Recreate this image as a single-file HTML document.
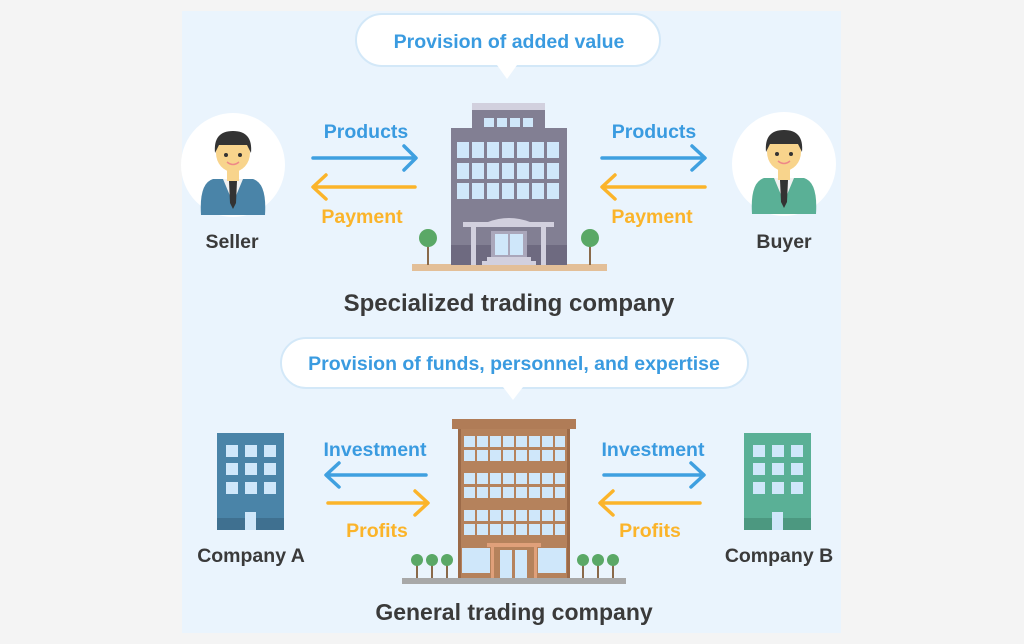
<!DOCTYPE html>
<html><head><meta charset="utf-8"><style>
html,body{margin:0;padding:0;background:#f5f5f5;}
svg{display:block}
text{font-family:"Liberation Sans","DejaVu Sans",sans-serif;font-weight:bold}
</style></head><body>
<svg width="1024" height="644" viewBox="0 0 1024 644" xmlns="http://www.w3.org/2000/svg">
<rect width="1024" height="644" fill="#f4f4f4"/>
<rect x="182" y="11" width="659" height="622" fill="#eaf4fd"/>

<!-- bubble 1 -->
<rect x="356" y="14" width="304" height="52" rx="26" fill="#fff" stroke="#d3e8f8" stroke-width="2"/>
<path d="M497,65 L507,79 L517,65 Z" fill="#fff"/>
<text x="509" y="48" font-size="19.5" fill="#3a9be0" text-anchor="middle">Provision of added value</text>

<!-- seller -->
<circle cx="233" cy="165" r="52" fill="#fff"/>
<g transform="translate(233,165)">
<path d="M-32,50 Q-34,18 -20,14 L20,14 Q34,18 32,50 Z" fill="#4a84a8"/>
<path d="M-10,14 L0,38 L10,14 Z" fill="#f2f2f2"/>
<path d="M-4,16 L4,16 L3,38 L0,44 L-3,38 Z" fill="#333"/>
<rect x="-6" y="4" width="12" height="12" fill="#f8d48c"/>
<ellipse cx="0" cy="-12" rx="17" ry="19" fill="#f8d48c"/>
<path d="M-18,-12 Q-20,-34 0,-34 Q20,-34 18,-12 L14,-20 L-14,-20 Z" fill="#333"/>
<circle cx="-7" cy="-10" r="2" fill="#333"/><circle cx="7" cy="-10" r="2" fill="#333"/>
<path d="M-6,-3 Q0,2 6,-3" stroke="#e88" stroke-width="1.5" fill="none"/>
</g>
<text x="232" y="248" font-size="19.5" fill="#3a3a3a" text-anchor="middle">Seller</text>

<!-- buyer -->
<circle cx="784" cy="164" r="52" fill="#fff"/>
<g transform="translate(784,164)">
<path d="M-32,50 Q-34,18 -20,14 L20,14 Q34,18 32,50 Z" fill="#5ab096"/>
<path d="M-10,14 L0,38 L10,14 Z" fill="#f2f2f2"/>
<path d="M-4,16 L4,16 L3,38 L0,44 L-3,38 Z" fill="#333"/>
<rect x="-6" y="4" width="12" height="12" fill="#f8d48c"/>
<ellipse cx="0" cy="-12" rx="17" ry="19" fill="#f8d48c"/>
<path d="M-18,-12 Q-20,-34 0,-34 Q20,-34 18,-12 L14,-20 L-14,-20 Z" fill="#333"/>
<circle cx="-7" cy="-10" r="2" fill="#333"/><circle cx="7" cy="-10" r="2" fill="#333"/>
<path d="M-6,-3 Q0,2 6,-3" stroke="#e88" stroke-width="1.5" fill="none"/>
</g>
<text x="784" y="248" font-size="19.5" fill="#3a3a3a" text-anchor="middle">Buyer</text>

<!-- arrows -->
<g stroke-width="3.5" fill="none" stroke-linecap="round" stroke-linejoin="round">
<path d="M313,158 L414,158 M404,146 L416,158 L404,170" stroke="#3fa0e0"/>
<path d="M415,187 L314,187 M326,175 L313,187 L326,199" stroke="#fbb42a"/>
<path d="M602,158 L704,158 M692,146 L705,158 L692,170" stroke="#3fa0e0"/>
<path d="M705,187 L603,187 M615,175 L602,187 L615,199" stroke="#fbb42a"/>
<path d="M426,475 L327,475 M339,463 L326,475 L339,487" stroke="#3fa0e0"/>
<path d="M328,503 L427,503 M415,491 L428,503 L415,515" stroke="#fbb42a"/>
<path d="M604,475 L703,475 M691,463 L704,475 L691,487" stroke="#3fa0e0"/>
<path d="M700,503 L601,503 M613,491 L600,503 L613,515" stroke="#fbb42a"/>
</g>
<g font-size="19.5" text-anchor="middle">
<text x="366" y="138" fill="#3a9be0">Products</text>
<text x="362" y="223" fill="#fbb42a">Payment</text>
<text x="654" y="138" fill="#3a9be0">Products</text>
<text x="652" y="223" fill="#fbb42a">Payment</text>
<text x="375" y="456" fill="#3a9be0">Investment</text>
<text x="377" y="537" fill="#fbb42a">Profits</text>
<text x="653" y="456" fill="#3a9be0">Investment</text>
<text x="650" y="537" fill="#fbb42a">Profits</text>
</g>

<!-- building 1 -->
<rect x="412" y="264" width="195" height="7" fill="#e3bf98"/>
<rect x="472" y="103" width="73" height="26" fill="#827f93"/>
<rect x="472" y="103" width="73" height="7" fill="#d2d0de"/>
<g fill="#cfe7fa"><rect x="484" y="118" width="10" height="9"/><rect x="497" y="118" width="10" height="9"/><rect x="510" y="118" width="10" height="9"/><rect x="523" y="118" width="10" height="9"/></g>
<rect x="451" y="128" width="116" height="137" fill="#827f93"/>
<rect x="451" y="245" width="116" height="20" fill="#6e6a80"/>
<g fill="#cfe7fa" id="w1">
<rect x="457" y="142" width="12" height="16"/><rect x="472" y="142" width="12" height="16"/><rect x="487" y="142" width="12" height="16"/><rect x="502" y="142" width="12" height="16"/><rect x="517" y="142" width="12" height="16"/><rect x="532" y="142" width="12" height="16"/><rect x="547" y="142" width="12" height="16"/>
</g>
<use href="#w1" y="21"/><use href="#w1" y="41"/>
<path d="M463,227 L554,227 L554,222 L530,222 Q509,214 488,222 L463,222 Z" fill="#d2d0de"/>
<rect x="471" y="227" width="5" height="38" fill="#d2d0de"/><rect x="541" y="227" width="5" height="38" fill="#d2d0de"/>
<rect x="491" y="231" width="36" height="26" fill="#aaa7bb"/>
<rect x="495" y="234" width="13" height="21" fill="#cfe7fa"/><rect x="510" y="234" width="13" height="21" fill="#cfe7fa"/>
<rect x="487" y="257" width="44" height="4" fill="#d2d0de"/><rect x="482" y="261" width="54" height="4" fill="#d2d0de"/>
<rect x="427" y="240" width="2" height="25" fill="#8a6a4a"/><circle cx="428" cy="238" r="9" fill="#5aa866"/>
<rect x="589" y="240" width="2" height="25" fill="#8a6a4a"/><circle cx="590" cy="238" r="9" fill="#5aa866"/>
<text x="509" y="311" font-size="24" fill="#3a3a3a" text-anchor="middle">Specialized trading company</text>

<!-- bubble 2 -->
<rect x="281" y="338" width="467" height="50" rx="25" fill="#fff" stroke="#d3e8f8" stroke-width="2"/>
<path d="M503,387 L513,400 L523,387 Z" fill="#fff"/>
<text x="514" y="370" font-size="19.5" fill="#3a9be0" text-anchor="middle">Provision of funds, personnel, and expertise</text>

<!-- company A -->
<rect x="217" y="433" width="67" height="97" fill="#4a84a8"/>
<rect x="217" y="518" width="67" height="12" fill="#3f7090"/>
<g fill="#cfe7fa">
<rect x="226" y="445" width="12" height="12"/><rect x="245" y="445" width="12" height="12"/><rect x="264" y="445" width="12" height="12"/>
<rect x="226" y="463" width="12" height="12"/><rect x="245" y="463" width="12" height="12"/><rect x="264" y="463" width="12" height="12"/>
<rect x="226" y="482" width="12" height="12"/><rect x="245" y="482" width="12" height="12"/><rect x="264" y="482" width="12" height="12"/>
<rect x="245" y="512" width="11" height="18"/></g>
<text x="251" y="562" font-size="19.5" fill="#3a3a3a" text-anchor="middle">Company A</text>

<!-- company B -->
<rect x="744" y="433" width="67" height="97" fill="#5ab096"/>
<rect x="744" y="518" width="67" height="12" fill="#4c9880"/>
<g fill="#cfe7fa">
<rect x="753" y="445" width="12" height="12"/><rect x="772" y="445" width="12" height="12"/><rect x="791" y="445" width="12" height="12"/>
<rect x="753" y="463" width="12" height="12"/><rect x="772" y="463" width="12" height="12"/><rect x="791" y="463" width="12" height="12"/>
<rect x="753" y="482" width="12" height="12"/><rect x="772" y="482" width="12" height="12"/><rect x="791" y="482" width="12" height="12"/>
<rect x="772" y="512" width="11" height="18"/></g>
<text x="779" y="562" font-size="19.5" fill="#3a3a3a" text-anchor="middle">Company B</text>

<!-- building 2 -->
<rect x="402" y="578" width="224" height="6" fill="#a8a8a8"/>
<rect x="458" y="428" width="112" height="150" fill="#9c6a48"/>
<rect x="461" y="428" width="106" height="150" fill="#b5825c"/>
<rect x="452" y="419" width="124" height="10" fill="#b07c57"/>
<g fill="#cfe7fa" id="wr">
<rect x="464" y="436" width="11" height="11"/><rect x="477" y="436" width="11" height="11"/><rect x="490" y="436" width="11" height="11"/><rect x="503" y="436" width="11" height="11"/><rect x="516" y="436" width="11" height="11"/><rect x="529" y="436" width="11" height="11"/><rect x="542" y="436" width="11" height="11"/><rect x="555" y="436" width="10" height="11"/>
<rect x="464" y="450" width="11" height="11"/><rect x="477" y="450" width="11" height="11"/><rect x="490" y="450" width="11" height="11"/><rect x="503" y="450" width="11" height="11"/><rect x="516" y="450" width="11" height="11"/><rect x="529" y="450" width="11" height="11"/><rect x="542" y="450" width="11" height="11"/><rect x="555" y="450" width="10" height="11"/>
</g>
<use href="#wr" y="37"/><use href="#wr" y="74"/>
<rect x="462" y="548" width="28" height="25" fill="#cfe7fa"/><rect x="538" y="548" width="28" height="25" fill="#cfe7fa"/>
<rect x="487" y="543" width="54" height="4" fill="#e0a07a"/>
<rect x="491" y="547" width="3" height="31" fill="#e0a07a"/><rect x="534" y="547" width="3" height="31" fill="#e0a07a"/>
<rect x="500" y="550" width="12" height="28" fill="#cfe7fa"/><rect x="515" y="550" width="12" height="28" fill="#cfe7fa"/>
<g fill="#8a6a4a"><rect x="416" y="560" width="2" height="18"/><rect x="431" y="560" width="2" height="18"/><rect x="446" y="560" width="2" height="18"/><rect x="582" y="560" width="2" height="18"/><rect x="597" y="560" width="2" height="18"/><rect x="612" y="560" width="2" height="18"/></g>
<g fill="#5aa866"><circle cx="417" cy="560" r="6"/><circle cx="432" cy="560" r="6"/><circle cx="447" cy="560" r="6"/><circle cx="583" cy="560" r="6"/><circle cx="598" cy="560" r="6"/><circle cx="613" cy="560" r="6"/></g>
<text x="514" y="620" font-size="23" fill="#3a3a3a" text-anchor="middle">General trading company</text>
</svg>
</body></html>
